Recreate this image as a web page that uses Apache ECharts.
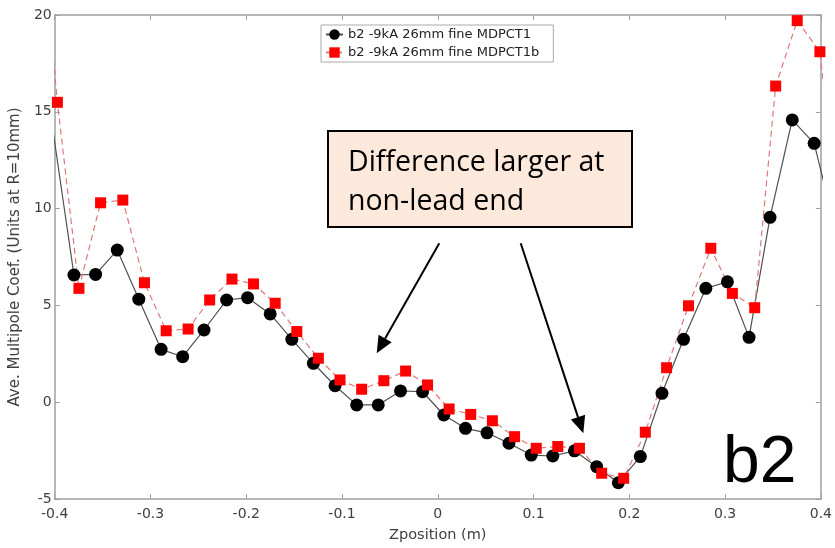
<!DOCTYPE html>
<html>
<head>
<meta charset="utf-8">
<script src="https://cdn.jsdelivr.net/npm/echarts@6/dist/echarts.min.js"></script>
<style>html,body{margin:0;padding:0;background:#fff;}#chart{width:835px;height:548px;}</style>
</head>
<body>
<div id="chart"></div>
<script>
// ---- data ----
const seriesNames = ['b2 -9kA 26mm fine MDPCT1', 'b2 -9kA 26mm fine MDPCT1b'];
const blackX = [-0.4026, -0.3799, -0.3573, -0.3347, -0.3122, -0.2889, -0.2664, -0.2441, -0.2205, -0.1986, -0.1750, -0.1524, -0.1299, -0.1073, -0.0847, -0.0622, -0.0389, -0.0159, 0.0063, 0.0289, 0.0514, 0.0743, 0.0976, 0.1201, 0.1427, 0.1659, 0.1885, 0.2115, 0.2341, 0.2566, 0.2799, 0.3024, 0.3250, 0.3469, 0.3701, 0.3930, 0.4157];
const blackY = [14.3, 6.57, 6.6, 7.86, 5.32, 2.73, 2.35, 3.73, 5.28, 5.40, 4.56, 3.25, 2.01, 0.85, -0.14, -0.14, 0.58, 0.54, -0.66, -1.35, -1.58, -2.12, -2.73, -2.78, -2.51, -3.33, -4.16, -2.81, 0.46, 3.25, 5.88, 6.22, 3.35, 9.55, 14.58, 13.37, 8.8];
const redX = [-0.4198, -0.3972, -0.3747, -0.3521, -0.3289, -0.3063, -0.2836, -0.2607, -0.2382, -0.2149, -0.1924, -0.1698, -0.1472, -0.1247, -0.1021, -0.0795, -0.0563, -0.0336, -0.0107, 0.0118, 0.0344, 0.0570, 0.0802, 0.1028, 0.1253, 0.1479, 0.1711, 0.1941, 0.2167, 0.2389, 0.2618, 0.2851, 0.3076, 0.3309, 0.3528, 0.3753, 0.3990, 0.4215];
const redY = [27.5, 15.49, 5.88, 10.30, 10.44, 6.17, 3.69, 3.78, 5.28, 6.36, 6.11, 5.11, 3.65, 2.27, 1.15, 0.67, 1.11, 1.61, 0.89, -0.35, -0.63, -0.96, -1.78, -2.38, -2.29, -2.38, -3.67, -3.93, -1.55, 1.78, 4.98, 7.95, 5.62, 4.88, 16.33, 19.71, 18.10, 8.0];
const xMin = -0.4, xMax = 0.4, xStep = 0.1;
const yMin = -5, yMax = 20, yStep = 5;
const xTitle = 'Zposition (m)';
const yTitle = 'Ave. Multipole Coef. (Units at R=10mm)';
const noteText = 'Difference larger at\nnon-lead end';
const cornerText = 'b2';

// ---- chart ----
const zip = (xs, ys) => xs.map((x, i) => [x, ys[i]]);
const axisColor = '#a0a0a0';
const labelColor = '#404040';
const FONT = '"DejaVu Sans", sans-serif';

function arrow(x0, y0, x1, y1) {
  const dx = x1 - x0, dy = y1 - y0, len = Math.hypot(dx, dy);
  const ux = dx / len, uy = dy / len, nx = -uy, ny = ux;
  const L = 17, W = 7.5;
  const bx = x1 - L * ux, by = y1 - L * uy;
  return [
    { type: 'line', shape: { x1: x0, y1: y0, x2: bx, y2: by }, style: { stroke: '#000', lineWidth: 2 }, z: 100 },
    { type: 'polygon', shape: { points: [[x1, y1], [bx + W * nx, by + W * ny], [bx - W * nx, by - W * ny]] }, style: { fill: '#000' }, z: 100 }
  ];
}

const chart = echarts.init(document.getElementById('chart'), null, { renderer: 'canvas' });
const baseX = {
  type: 'value', min: xMin, max: xMax, interval: xStep, gridIndex: 0,
  axisLine: { onZero: false, lineStyle: { color: axisColor, width: 1.5 } },
  axisTick: { inside: true, length: 5, lineStyle: { color: axisColor } },
  splitLine: { show: false }
};
const baseY = {
  type: 'value', min: yMin, max: yMax, interval: yStep, gridIndex: 0,
  axisLine: { show: true, onZero: false, lineStyle: { color: axisColor, width: 1.5 } },
  axisTick: { show: true, inside: true, length: 5, lineStyle: { color: axisColor } },
  splitLine: { show: false }
};
chart.setOption({
  animation: false,
  backgroundColor: '#fff',
  textStyle: { fontFamily: FONT },
  grid: { left: 54, right: 13, top: 15, bottom: 49 },
  xAxis: [
    Object.assign({}, baseX, {
      position: 'bottom',
      axisLabel: { color: labelColor, fontSize: 14, margin: 8, fontFamily: FONT },
      name: xTitle, nameLocation: 'middle', nameGap: 29,
      nameTextStyle: { color: labelColor, fontSize: 14.5, fontFamily: FONT }
    }),
    Object.assign({}, baseX, { position: 'top', axisLabel: { show: false } })
  ],
  yAxis: [
    Object.assign({}, baseY, {
      position: 'left',
      axisLabel: { color: labelColor, fontSize: 14, margin: 3, fontFamily: FONT },
      name: yTitle, nameLocation: 'middle', nameGap: 25,
      nameTextStyle: { color: labelColor, fontSize: 15, fontFamily: FONT }
    }),
    Object.assign({}, baseY, { position: 'right', axisLabel: { show: false } })
  ],
  legend: {
    orient: 'vertical', left: 321, top: 25,
    itemWidth: 17, itemHeight: 13, itemGap: 5,
    padding: [3, 14, 3, 4],
    borderColor: '#aaa', borderWidth: 1, backgroundColor: '#fff',
    textStyle: { fontSize: 13, color: '#222', fontFamily: FONT },
    data: seriesNames
  },
  series: [
    {
      name: seriesNames[0], type: 'line', xAxisIndex: 0, yAxisIndex: 0,
      data: zip(blackX, blackY), clip: true,
      symbol: 'circle', symbolSize: 13,
      itemStyle: { color: '#000' },
      lineStyle: { color: '#505050', width: 1.2 }
    },
    {
      name: seriesNames[1], type: 'line', xAxisIndex: 0, yAxisIndex: 0,
      data: zip(redX, redY), clip: true,
      symbol: 'rect', symbolSize: 11,
      itemStyle: { color: '#ff0000' },
      lineStyle: { color: '#e07878', width: 1.2, type: [6, 4] }
    }
  ],
  graphic: [
    { type: 'rect', shape: { x: 328, y: 131, width: 304, height: 96 }, style: { fill: '#FCE9DB', stroke: '#000', lineWidth: 2 }, z: 100 },
    { type: 'text', x: 348, y: 143, style: { text: noteText, font: '28.5px "Open Sans"', fill: '#000', lineHeight: 39, verticalAlign: 'top' }, z: 101 },
    { type: 'text', x: 723, y: 431, style: { text: cornerText, font: '66px "Liberation Sans"', fill: '#000', lineHeight: 66, verticalAlign: 'top' }, z: 101 }
  ].concat(arrow(439.3, 243.3, 376.7, 353.3)).concat(arrow(520.7, 243.3, 583.3, 433.3))
});
</script>
</body>
</html>
